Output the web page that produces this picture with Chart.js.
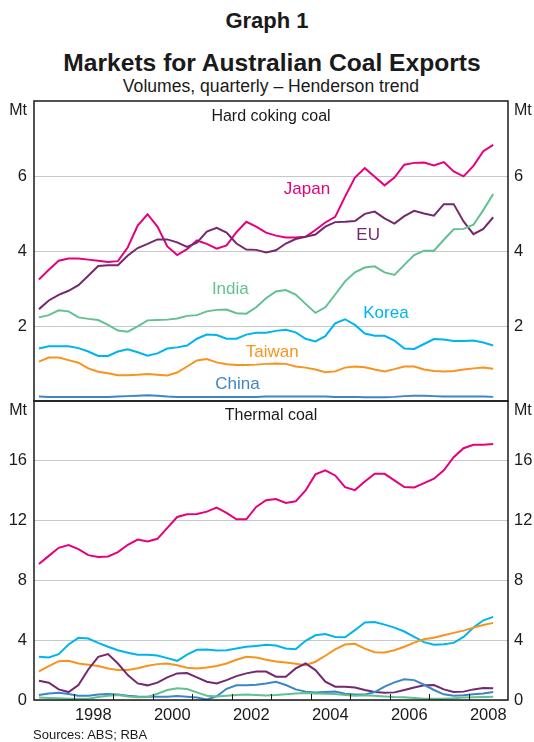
<!DOCTYPE html>
<html><head><meta charset="utf-8">
<script src="https://cdn.jsdelivr.net/npm/chart.js@4.4.1/dist/chart.umd.min.js"></script>
<style>
html,body{margin:0;padding:0;background:#fff}
body{width:534px;height:742px;position:relative;overflow:hidden;font-family:"Liberation Sans",Arial,sans-serif;color:#1a1a1a}
.t{position:absolute;left:0;width:534px;text-align:center;line-height:1;white-space:nowrap}
#c1{position:absolute;left:0;top:95px}
#c2{position:absolute;left:0;top:395px}
#src{position:absolute;left:33px;top:728px;font-size:13px;line-height:1;white-space:nowrap}
</style></head><body>
<div class="t" style="top:10px;font-size:22px;font-weight:bold">Graph 1</div>
<div class="t" style="top:51px;left:5px;font-size:24.6px;font-weight:bold">Markets for Australian Coal Exports</div>
<div class="t" style="top:78px;left:4px;font-size:17.6px">Volumes, quarterly – Henderson trend</div>
<canvas id="c1" width="534" height="310"></canvas>
<canvas id="c2" width="534" height="340"></canvas>
<div id="src">Sources: ABS; RBA</div>
<script>
const quarters = ["1997Q1","1997Q2","1997Q3","1997Q4","1998Q1","1998Q2","1998Q3","1998Q4",
"1999Q1","1999Q2","1999Q3","1999Q4","2000Q1","2000Q2","2000Q3","2000Q4",
"2001Q1","2001Q2","2001Q3","2001Q4","2002Q1","2002Q2","2002Q3","2002Q4",
"2003Q1","2003Q2","2003Q3","2003Q4","2004Q1","2004Q2","2004Q3","2004Q4",
"2005Q1","2005Q2","2005Q3","2005Q4","2006Q1","2006Q2","2006Q3","2006Q4",
"2007Q1","2007Q2","2007Q3","2007Q4","2008Q1","2008Q2","2008Q3"];

// Hard coking coal (Mt)
const japanHC = [3.24,3.50,3.74,3.80,3.80,3.77,3.74,3.71,3.73,4.10,4.68,4.98,4.65,4.12,3.89,4.05,4.28,4.19,4.06,4.15,4.50,4.78,4.65,4.49,4.41,4.36,4.36,4.38,4.56,4.76,4.91,5.45,5.96,6.21,5.98,5.75,5.96,6.30,6.35,6.36,6.28,6.37,6.12,5.99,6.27,6.66,6.83];
const euHC = [2.45,2.68,2.83,2.94,3.09,3.34,3.60,3.62,3.62,3.88,4.08,4.19,4.31,4.31,4.23,4.11,4.22,4.52,4.62,4.49,4.20,4.04,4.03,3.96,4.02,4.20,4.32,4.38,4.44,4.65,4.77,4.78,4.80,4.99,5.05,4.87,4.73,4.93,5.07,5.00,4.94,5.25,5.25,4.79,4.45,4.59,4.90];
const indiaHC = [2.23,2.29,2.42,2.39,2.23,2.19,2.16,2.03,1.88,1.85,1.99,2.15,2.16,2.17,2.20,2.27,2.29,2.39,2.43,2.44,2.34,2.33,2.50,2.74,2.92,2.96,2.84,2.59,2.35,2.50,2.84,3.19,3.43,3.56,3.59,3.43,3.36,3.63,3.89,4.01,4.01,4.30,4.58,4.59,4.70,5.09,5.52];
const koreaHC = [1.40,1.46,1.46,1.46,1.41,1.32,1.20,1.20,1.32,1.38,1.30,1.21,1.27,1.40,1.43,1.48,1.66,1.77,1.76,1.66,1.66,1.77,1.82,1.82,1.87,1.90,1.83,1.66,1.59,1.73,2.07,2.18,2.03,1.80,1.74,1.74,1.61,1.40,1.39,1.52,1.65,1.64,1.60,1.60,1.61,1.56,1.48];
const taiwanHC = [1.05,1.16,1.16,1.09,1.02,0.87,0.78,0.74,0.69,0.69,0.70,0.72,0.70,0.68,0.76,0.92,1.08,1.12,1.03,0.98,0.96,0.96,0.97,0.99,1.00,0.99,0.92,0.89,0.84,0.77,0.79,0.89,0.92,0.90,0.84,0.79,0.85,0.92,0.92,0.84,0.80,0.79,0.80,0.84,0.87,0.89,0.86];
const chinaHC = [0.12,0.11,0.11,0.11,0.11,0.11,0.11,0.11,0.12,0.13,0.14,0.15,0.14,0.12,0.11,0.11,0.11,0.11,0.11,0.11,0.11,0.11,0.11,0.12,0.12,0.12,0.12,0.12,0.12,0.12,0.11,0.11,0.11,0.10,0.10,0.10,0.11,0.13,0.14,0.14,0.13,0.12,0.12,0.12,0.12,0.12,0.11];

// Thermal coal (Mt)
const japanTh = [9.09,9.64,10.18,10.36,10.09,9.69,9.56,9.60,9.89,10.38,10.73,10.60,10.78,11.51,12.24,12.42,12.44,12.60,12.87,12.51,12.09,12.09,12.91,13.36,13.44,13.18,13.29,14.02,15.09,15.36,15.02,14.24,14.04,14.62,15.13,15.13,14.69,14.24,14.22,14.51,14.80,15.36,16.24,16.84,17.07,17.07,17.13];
const koreaTh = [2.89,2.84,3.07,3.71,4.16,4.11,3.82,3.56,3.33,3.16,3.02,3.02,2.98,2.80,2.62,3.04,3.36,3.38,3.31,3.33,3.44,3.56,3.62,3.69,3.64,3.44,3.40,3.96,4.33,4.42,4.22,4.20,4.67,5.18,5.22,5.04,4.84,4.58,4.22,3.87,3.69,3.73,3.82,4.22,4.84,5.33,5.56];
const taiwanTh = [1.91,2.27,2.60,2.62,2.44,2.36,2.27,2.11,2.00,2.00,2.13,2.29,2.40,2.44,2.33,2.16,2.11,2.18,2.27,2.44,2.69,2.89,2.84,2.69,2.58,2.51,2.42,2.33,2.56,2.96,3.38,3.71,3.76,3.44,3.20,3.18,3.33,3.56,3.84,4.07,4.16,4.33,4.49,4.64,4.84,5.02,5.16];
const euTh = [1.29,1.16,0.71,0.53,1.00,2.04,2.89,3.07,2.44,1.67,1.11,0.98,1.16,1.51,1.78,1.80,1.51,1.22,1.11,1.33,1.60,1.78,1.91,1.90,1.56,1.56,2.11,2.44,2.00,1.22,0.89,0.89,0.84,0.67,0.53,0.49,0.51,0.67,0.84,0.98,1.00,0.71,0.53,0.56,0.71,0.80,0.78];
const chinaTh = [0.33,0.44,0.49,0.40,0.29,0.29,0.36,0.40,0.36,0.29,0.24,0.22,0.22,0.22,0.27,0.22,0.16,0.03,0.25,0.75,0.98,0.98,1.02,1.10,1.22,1.00,0.71,0.56,0.51,0.53,0.56,0.42,0.36,0.36,0.53,0.89,1.18,1.38,1.33,1.02,0.67,0.38,0.29,0.31,0.38,0.44,0.53];
const indiaTh = [0.16,0.13,0.11,0.09,0.09,0.09,0.20,0.29,0.33,0.24,0.18,0.20,0.42,0.67,0.78,0.73,0.51,0.29,0.24,0.29,0.33,0.36,0.33,0.30,0.33,0.38,0.44,0.47,0.44,0.42,0.40,0.33,0.29,0.31,0.29,0.24,0.20,0.18,0.13,0.09,0.09,0.09,0.11,0.16,0.18,0.20,0.22];

// axis ticks
const yearLabels = [1998, 2000, 2002, 2004, 2006, 2008];
const yearTickMarks = [1998,1999,2000,2001,2002,2003,2004,2005,2006,2007,2008];
const hcTicks = [2, 4, 6];
const thTicks = [0, 4, 8, 12, 16];

const COL = {Japan:'#e5007e', EU:'#74296f', India:'#62c092', Korea:'#00b4ec', Taiwan:'#f7941d', China:'#3d85c6'};
const FAM = '"Liberation Sans", Arial, sans-serif';
const TXT = '#1a1a1a';

function qx(q){ return +q.slice(0,4) + (+q.slice(5) - 0.5) / 4; }
function series(name, arr){
  return {label:name, data: quarters.map((q,i)=>({x:qx(q), y:arr[i]})), borderColor:COL[name], borderWidth:2, pointRadius:0, tension:0, fill:false};
}

// label anchor positions (data coordinates) for series names in top panel
const hcLabelAt = {Japan:[2003.91,5.53], EU:[2005.46,4.29], India:[2001.97,2.85], Korea:[2005.91,2.21], Taiwan:[2003.03,1.17], China:[2002.15,0.32]};

const framePlugin = {
  id:'frame',
  afterDatasetsDraw(chart){
    const {ctx, chartArea:a} = chart;
    ctx.save();
    ctx.strokeStyle = '#1a1a1a'; ctx.lineWidth = 1.5;
    ctx.strokeRect(a.left, a.top, a.right-a.left, a.bottom-a.top);
    const o = chart.options.plugins.deco;
    ctx.fillStyle = TXT;
    ctx.font = '16px ' + FAM;
    ctx.textBaseline = 'alphabetic';
    ctx.textAlign = 'right'; ctx.fillText('Mt', a.left-7, a.top+o.mtDy);
    ctx.textAlign = 'left'; ctx.fillText('Mt', a.right+6, a.top+o.mtDy);
    ctx.textAlign = 'center'; ctx.fillText(o.title, (a.left+a.right)/2, a.top+o.titleDy);
    if (o.labels){
      ctx.font = '17px ' + FAM;
      const xs = chart.scales.x, ys = chart.scales.y;
      for (const [name,[vx,vy]] of Object.entries(o.labels)){
        ctx.fillStyle = COL[name];
        ctx.fillText(name, xs.getPixelForValue(vx), ys.getPixelForValue(vy));
      }
    }
    if (o.tickMarks){
      const xs = chart.scales.x;
      ctx.strokeStyle = '#1a1a1a'; ctx.lineWidth = 1;
      for (const yv of yearTickMarks){
        const px = Math.round(xs.getPixelForValue(yv)) + 0.5;
        ctx.beginPath(); ctx.moveTo(px, a.bottom); ctx.lineTo(px, a.bottom-6); ctx.stroke();
      }
    }
    ctx.restore();
  }
};

function noPad(s){ s.paddingTop = 0; s.paddingBottom = 0; s.paddingLeft = 0; s.paddingRight = 0; }

function opts(yMax, ticks, showX, deco){
  const tickFont = {family: FAM, size: 16.5};
  const setTicks = s => { s.ticks = ticks.map(v=>({value:v})); };
  return {
    responsive:false, animation:false, devicePixelRatio:1,
    layout:{padding:{top:6, bottom: showX ? 5 : 4, left:0, right:0}},
    plugins:{legend:{display:false}, tooltip:{enabled:false}, deco},
    scales:{
      x:{type:'linear', min:1997, max:2009, display:showX,
         grid:{display:false, drawTicks:false}, border:{display:false},
         afterBuildTicks: s => { s.ticks = yearLabels.map(v=>({value:v+0.5})); },
         afterFit: s => { s.height = showX ? 30 : 0; noPad(s); },
         ticks:{font:tickFont, color:TXT, padding:6, maxRotation:0, autoSkip:false,
                callback: v => String(Math.floor(v))}},
      y:{position:'left', min:0, max:yMax, afterBuildTicks:setTicks, afterFit: s => { s.width = 34; noPad(s); },
         grid:{color:'#c4c8cb', lineWidth:1, drawTicks:false}, border:{display:false},
         ticks:{font:tickFont, color:TXT, padding:7}},
      y2:{position:'right', min:0, max:yMax, afterBuildTicks:setTicks, afterFit: s => { s.width = 26; noPad(s); },
         grid:{display:false, drawTicks:false}, border:{display:false},
         ticks:{font:tickFont, color:TXT, padding:6}}
    }
  };
}

new Chart(document.getElementById('c1'), {
  type:'line',
  data:{datasets:[series('China',chinaHC), series('Taiwan',taiwanHC), series('Korea',koreaHC), series('India',indiaHC), series('EU',euHC), series('Japan',japanHC)]},
  options: opts(8, hcTicks, false, {title:'Hard coking coal', mtDy:14, titleDy:19.7, labels:hcLabelAt}),
  plugins:[framePlugin]
});

new Chart(document.getElementById('c2'), {
  type:'line',
  data:{datasets:[series('India',indiaTh), series('China',chinaTh), series('EU',euTh), series('Taiwan',taiwanTh), series('Korea',koreaTh), series('Japan',japanTh)]},
  options: opts(20, thTicks, true, {title:'Thermal coal', mtDy:13.5, titleDy:19, tickMarks:true}),
  plugins:[framePlugin]
});
</script>
</body></html>
